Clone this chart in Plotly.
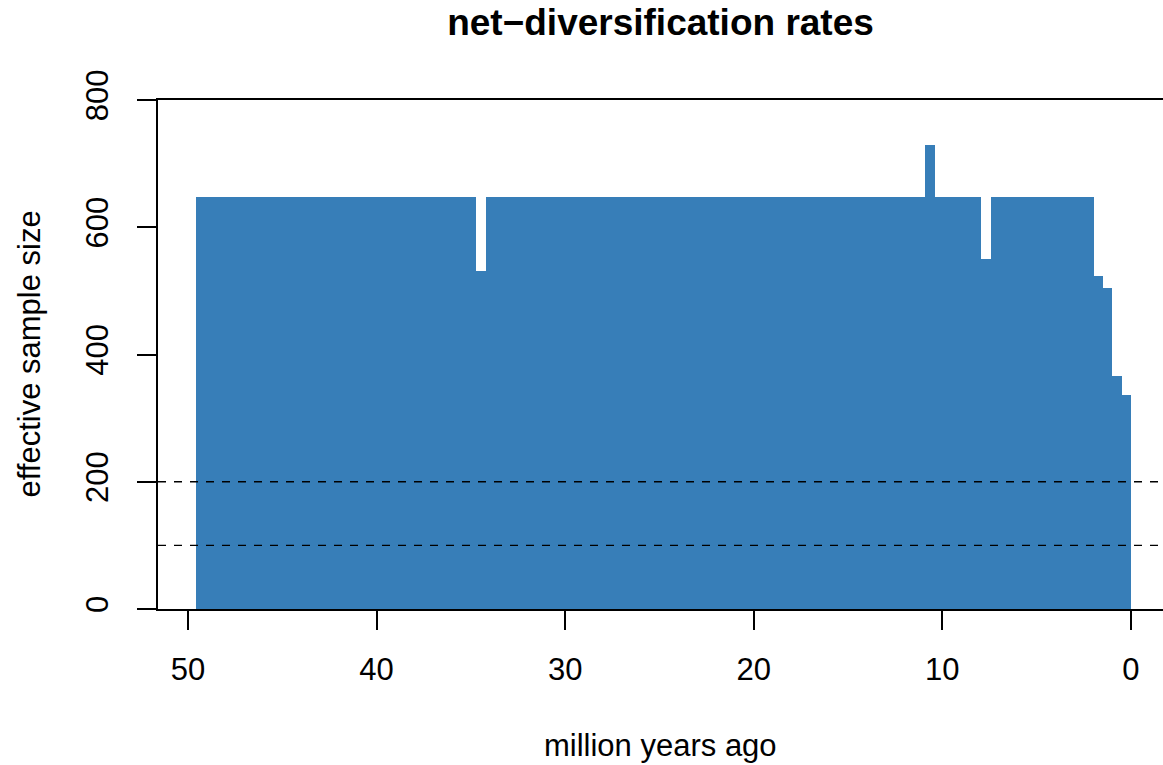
import plotly.graph_objects as go

# Effective sample size of the net-diversification rate in each time interval,
# interval 0 is the youngest (0 to 0.496 million years ago).
bin_width = 0.496
ess_values = [
    336, 366, 504, 523, 647, 647, 647, 647, 647, 647,
    647, 647, 647, 647, 647, 550, 647, 647, 647, 647,
    647, 729, 647, 647, 647, 647, 647, 647, 647, 647,
    647, 647, 647, 647, 647, 647, 647, 647, 647, 647,
    647, 647, 647, 647, 647, 647, 647, 647, 647, 647,
    647, 647, 647, 647, 647, 647, 647, 647, 647, 647,
    647, 647, 647, 647, 647, 647, 647, 647, 647, 531,
    647, 647, 647, 647, 647, 647, 647, 647, 647, 647,
    647, 647, 647, 647, 647, 647, 647, 647, 647, 647,
    647, 647, 647, 647, 647, 647, 647, 647, 647, 647,
]
ess_thresholds = [100, 200]
x_ticks = [50, 40, 30, 20, 10, 0]
y_ticks = [0, 200, 400, 600, 800]

bin_centers = [(i + 0.5) * bin_width for i in range(len(ess_values))]

FONT = "Liberation Sans"
BLUE = "#377EB8"
LW = 1.8

fig = go.Figure()
fig.add_trace(go.Bar(
    x=bin_centers,
    y=ess_values,
    width=bin_width,
    marker=dict(color=BLUE, line=dict(width=0)),
    hoverinfo="x+y",
))

for t in ess_thresholds:
    fig.add_shape(
        type="line", xref="paper", x0=0, x1=1, yref="y", y0=t, y1=t,
        line=dict(color="black", width=1.4, dash="8px,8px"), layer="above",
    )

fig.update_layout(
    width=1163, height=765,
    margin=dict(l=158, r=0, t=100, b=156),
    paper_bgcolor="white", plot_bgcolor="white",
    showlegend=False, bargap=0,
    font=dict(family=FONT, size=31, color="black"),
    title=dict(
        text="<b>net\u2212diversification rates</b>",
        x=0.5, xref="paper", xanchor="center",
        y=1 - 22 / 765, yref="container", yanchor="middle",
        font=dict(family=FONT, size=37, color="black"),
    ),
    xaxis=dict(
        range=[51.59, -1.70], tickvals=x_ticks, ticktext=[str(v) for v in x_ticks],
        ticks="outside", ticklen=19, tickwidth=LW, tickcolor="black",
        showline=True, linecolor="black", linewidth=LW, mirror=True,
        showgrid=False, zeroline=False, ticklabelstandoff=13,
        tickfont=dict(family=FONT, size=31, color="black"),
    ),
    yaxis=dict(
        range=[0, 800], tickvals=y_ticks, ticktext=[str(v) for v in y_ticks],
        ticks="outside", ticklen=19, tickwidth=LW, tickcolor="black",
        showline=True, linecolor="black", linewidth=LW,
        showgrid=False, zeroline=False, tickangle=-90, ticklabelstandoff=17,
        tickfont=dict(family=FONT, size=31, color="black"),
    ),
    annotations=[
        dict(text="million years ago", xref="paper", yref="paper", x=0.5, y=0,
             yshift=-136, xanchor="center", yanchor="middle", showarrow=False,
             font=dict(family=FONT, size=31, color="black")),
        dict(text="effective sample size", xref="paper", yref="paper", x=0, y=0.5,
             xshift=-129, xanchor="center", yanchor="middle", textangle=-90,
             showarrow=False, font=dict(family=FONT, size=31, color="black")),
    ],
)

fig.write_html("out.html")
